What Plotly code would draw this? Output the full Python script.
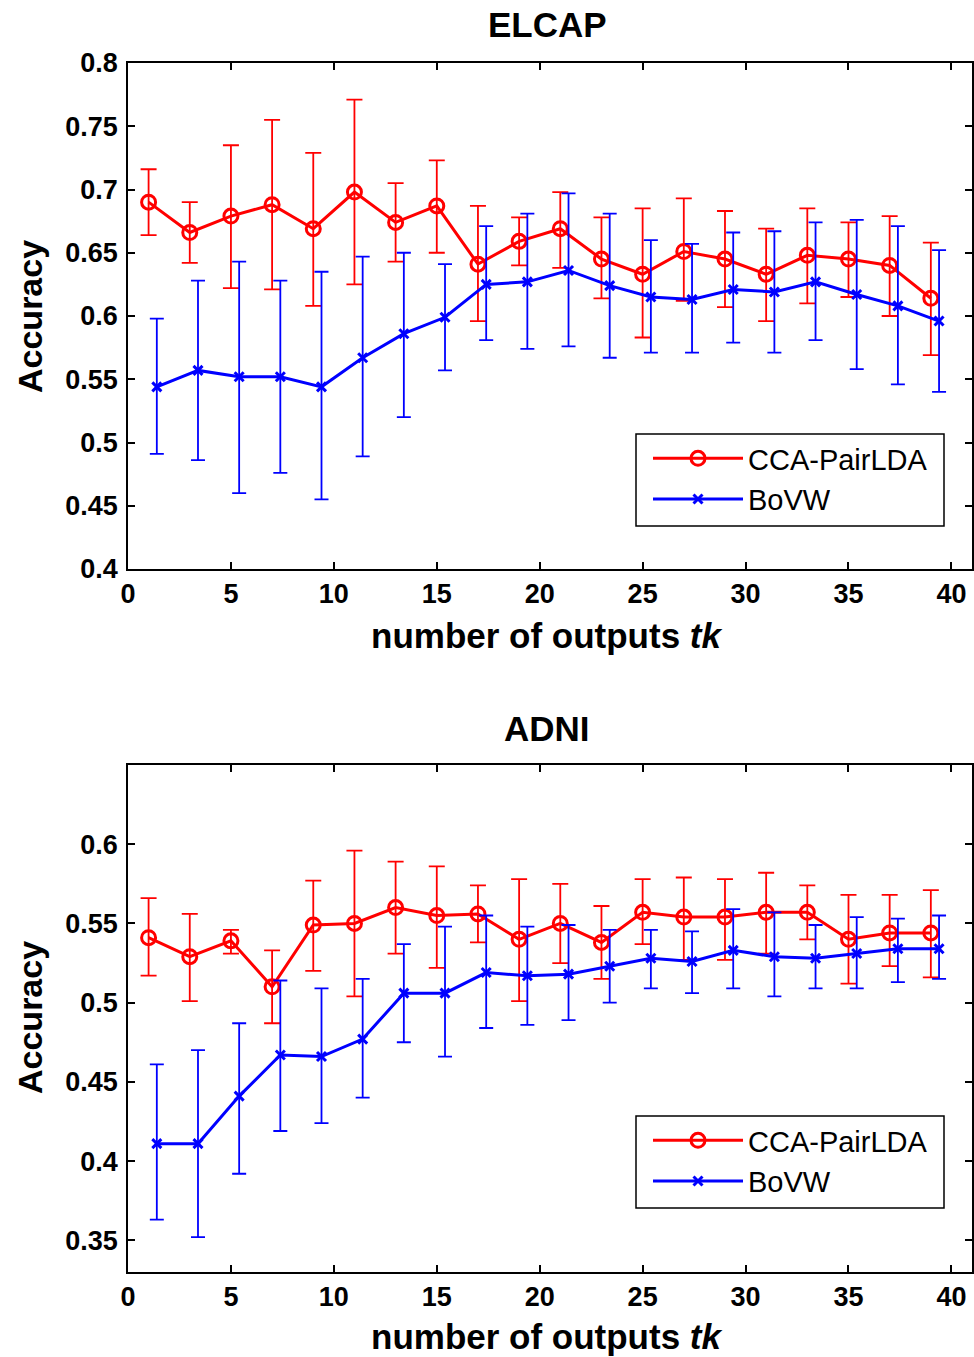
import plotly.graph_objects as go

# ---------------- data ----------------
x_red = [1, 3, 5, 7, 9, 11, 13, 15, 17, 19, 21, 23, 25, 27, 29, 31, 33, 35, 37, 39]
x_blue = [1.4, 3.4, 5.4, 7.4, 9.4, 11.4, 13.4, 15.4, 17.4, 19.4,
          21.4, 23.4, 25.4, 27.4, 29.4, 31.4, 33.4, 35.4, 37.4, 39.4]

# ELCAP
elcap_cca = [0.690, 0.666, 0.679, 0.688, 0.669, 0.698, 0.674, 0.687, 0.641, 0.659,
             0.669, 0.645, 0.633, 0.651, 0.645, 0.633, 0.648, 0.645, 0.640, 0.614]
elcap_cca_hi = [0.716, 0.690, 0.735, 0.755, 0.729, 0.771, 0.705, 0.723, 0.687, 0.678,
                0.698, 0.678, 0.685, 0.693, 0.683, 0.669, 0.685, 0.674, 0.679, 0.658]
elcap_cca_lo = [0.664, 0.642, 0.622, 0.621, 0.608, 0.625, 0.643, 0.650, 0.596, 0.640,
                0.638, 0.614, 0.583, 0.612, 0.607, 0.596, 0.610, 0.615, 0.600, 0.569]
elcap_bovw = [0.544, 0.557, 0.552, 0.552, 0.544, 0.567, 0.586, 0.599, 0.625, 0.627,
              0.636, 0.624, 0.615, 0.613, 0.621, 0.619, 0.627, 0.617, 0.608, 0.596]
elcap_bovw_hi = [0.598, 0.628, 0.643, 0.628, 0.635, 0.647, 0.650, 0.641, 0.671, 0.681,
                 0.697, 0.681, 0.660, 0.657, 0.666, 0.667, 0.674, 0.676, 0.671, 0.652]
elcap_bovw_lo = [0.491, 0.486, 0.460, 0.476, 0.455, 0.489, 0.520, 0.557, 0.581, 0.574,
                 0.576, 0.567, 0.571, 0.571, 0.579, 0.571, 0.581, 0.558, 0.546, 0.540]

# ADNI
adni_cca = [0.541, 0.529, 0.539, 0.510, 0.549, 0.550, 0.560, 0.555, 0.556, 0.540,
            0.550, 0.538, 0.557, 0.554, 0.554, 0.557, 0.557, 0.540, 0.544, 0.544]
adni_cca_hi = [0.566, 0.556, 0.546, 0.533, 0.577, 0.596, 0.589, 0.586, 0.574, 0.578,
               0.575, 0.561, 0.578, 0.579, 0.578, 0.582, 0.574, 0.568, 0.568, 0.571]
adni_cca_lo = [0.517, 0.501, 0.531, 0.487, 0.520, 0.504, 0.531, 0.522, 0.538, 0.501,
               0.525, 0.515, 0.537, 0.527, 0.527, 0.531, 0.540, 0.512, 0.523, 0.516]
adni_bovw = [0.411, 0.411, 0.441, 0.467, 0.466, 0.477, 0.506, 0.506, 0.519, 0.517,
             0.518, 0.523, 0.528, 0.526, 0.533, 0.529, 0.528, 0.531, 0.534, 0.534]
adni_bovw_hi = [0.461, 0.470, 0.487, 0.514, 0.509, 0.515, 0.537, 0.548, 0.555, 0.548,
                0.549, 0.546, 0.546, 0.545, 0.559, 0.557, 0.549, 0.554, 0.553, 0.555]
adni_bovw_lo = [0.363, 0.352, 0.392, 0.419, 0.424, 0.440, 0.475, 0.466, 0.484, 0.486,
                0.489, 0.500, 0.509, 0.506, 0.509, 0.504, 0.509, 0.509, 0.513, 0.515]

x_ticks = [0, 5, 10, 15, 20, 25, 30, 35, 40]
y1_ticks = [0.4, 0.45, 0.5, 0.55, 0.6, 0.65, 0.7, 0.75, 0.8]
y1_labels = ["0.4", "0.45", "0.5", "0.55", "0.6", "0.65", "0.7", "0.75", "0.8"]
y2_ticks = [0.35, 0.4, 0.45, 0.5, 0.55, 0.6]
y2_labels = ["0.35", "0.4", "0.45", "0.5", "0.55", "0.6"]

# ---------------- figure ----------------
RED = "#ff0000"
BLUE = "#0000ff"
FONT = "Liberation Sans, Arial, sans-serif"

W, H = 974, 1357


def err(mean, hi, lo):
    return [h - m for h, m in zip(hi, mean)], [m - l for m, l in zip(mean, lo)]


fig = go.Figure()


def add_pair(xa, ya, legend, cca, cca_hi, cca_lo, bovw, bovw_hi, bovw_lo):
    up, dn = err(cca, cca_hi, cca_lo)
    fig.add_trace(go.Scatter(
        x=x_red, y=cca, name="CCA-PairLDA", mode="lines+markers",
        xaxis=xa, yaxis=ya, legend=legend,
        line=dict(color=RED, width=3),
        marker=dict(symbol="circle-open", size=14, color=RED, line=dict(width=3, color=RED)),
        error_y=dict(type="data", array=up, arrayminus=dn, color=RED, thickness=1.8, width=8),
    ))
    up, dn = err(bovw, bovw_hi, bovw_lo)
    fig.add_trace(go.Scatter(
        x=x_blue, y=bovw, name="BoVW", mode="lines+markers",
        xaxis=xa, yaxis=ya, legend=legend,
        line=dict(color=BLUE, width=3),
        marker=dict(symbol="x-thin-open", size=9, color=BLUE, line=dict(width=3, color=BLUE)),
        error_y=dict(type="data", array=up, arrayminus=dn, color=BLUE, thickness=1.8, width=7),
    ))


add_pair("x", "y", "legend", elcap_cca, elcap_cca_hi, elcap_cca_lo,
         elcap_bovw, elcap_bovw_hi, elcap_bovw_lo)
add_pair("x2", "y2", "legend2", adni_cca, adni_cca_hi, adni_cca_lo,
         adni_bovw, adni_bovw_hi, adni_bovw_lo)

L, R = 128, 2
plot_w = W - L - R


def py(pix):
    return 1 - pix / H


def px(pix):
    return (pix - L) / plot_w


axis_common = dict(
    showline=True, linecolor="black", linewidth=1.5, mirror="ticks",
    ticks="inside", ticklen=7, tickwidth=1.5, tickcolor="black",
    showgrid=False, zeroline=False, automargin=False,
    tickfont=dict(family=FONT, size=27, color="black", weight="bold"),
)

legend_common = dict(
    xanchor="left", yanchor="top", borderwidth=0, bgcolor="rgba(0,0,0,0)",
    font=dict(family=FONT, size=29, color="black"),
    itemwidth=90, tracegroupgap=0,
)

fig.update_layout(
    template="none",
    width=W, height=H,
    margin=dict(l=L, r=R, t=0, b=0, autoexpand=False),
    paper_bgcolor="white", plot_bgcolor="white",
    font=dict(family=FONT, color="black"),
    xaxis=dict(domain=[0, 1], range=[0, 41], tickvals=x_ticks, anchor="y",
               ticklabelstandoff=0, **axis_common),
    yaxis=dict(domain=[py(569), py(63)], range=[0.4, 0.8], tickvals=y1_ticks,
               ticktext=y1_labels, anchor="x", ticklabelstandoff=3, **axis_common),
    xaxis2=dict(domain=[0, 1], range=[0, 41], tickvals=x_ticks, anchor="y2",
                ticklabelstandoff=0, **axis_common),
    yaxis2=dict(domain=[py(1272), py(765)], range=[0.33, 0.65], tickvals=y2_ticks,
                ticktext=y2_labels, anchor="x2", ticklabelstandoff=3, **axis_common),
    legend=dict(x=px(648), y=py(433), **legend_common),
    legend2=dict(x=px(648), y=py(1115), **legend_common),
)

# legend frames
for top, bot in [(434, 526), (1116, 1208)]:
    fig.add_shape(type="rect", xref="paper", yref="paper",
                  x0=px(636), x1=px(944), y0=py(bot), y1=py(top),
                  line=dict(color="black", width=1.5), fillcolor="white", layer="below")

annotations = [
    dict(text="<b>ELCAP</b>", x=px(547), y=py(25), font=dict(size=35)),
    dict(text="<b>ADNI</b>", x=px(547), y=py(728), font=dict(size=35)),
    dict(text="<b>number of outputs <i>tk</i></b>", x=px(547), y=py(635), font=dict(size=35)),
    dict(text="<b>number of outputs <i>tk</i></b>", x=px(547), y=py(1336), font=dict(size=35)),
    dict(text="<b>Accuracy</b>", x=px(30), y=py(317), font=dict(size=34), textangle=-90),
    dict(text="<b>Accuracy</b>", x=px(30), y=py(1018), font=dict(size=34), textangle=-90),
]
for a in annotations:
    a.update(xref="paper", yref="paper", showarrow=False, xanchor="center", yanchor="middle")
    a["font"].update(family=FONT, color="black")
fig.update_layout(annotations=annotations)

fig.write_html(
    "out.html",
    config={"displayModeBar": False},
    post_script="document.body.style.margin='0px';document.body.style.overflow='hidden';",
)
